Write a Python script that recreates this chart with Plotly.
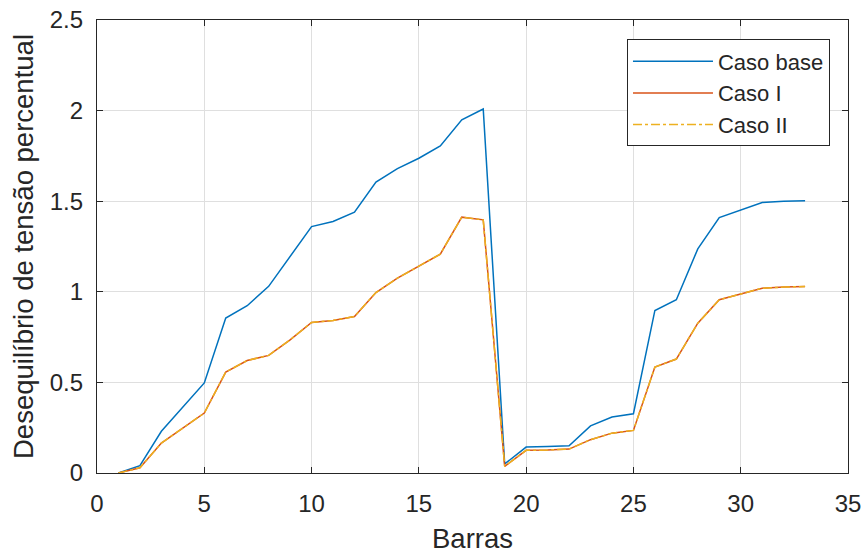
import plotly.graph_objects as go

barras = list(range(1, 34))
caso_base = [0.0, 0.04, 0.23, 0.365, 0.497, 0.855, 0.923, 1.03, 1.195, 1.36,
             1.388, 1.44, 1.605, 1.68, 1.737, 1.805, 1.949, 2.009, 0.05, 0.143,
             0.146, 0.15, 0.26, 0.309, 0.327, 0.897, 0.956, 1.237, 1.41, 1.452,
             1.493, 1.5, 1.502]
caso_I = [0.0, 0.029, 0.165, 0.248, 0.331, 0.557, 0.621, 0.649, 0.735, 0.831,
          0.842, 0.864, 0.996, 1.075, 1.14, 1.208, 1.412, 1.397, 0.037, 0.125,
          0.127, 0.132, 0.184, 0.22, 0.235, 0.585, 0.629, 0.827, 0.956, 0.989,
          1.02, 1.026, 1.029]
caso_II = [0.0, 0.029, 0.165, 0.248, 0.331, 0.557, 0.621, 0.649, 0.735, 0.831,
           0.842, 0.864, 0.996, 1.075, 1.14, 1.208, 1.412, 1.397, 0.037, 0.125,
           0.127, 0.132, 0.184, 0.22, 0.235, 0.585, 0.629, 0.827, 0.956, 0.989,
           1.02, 1.026, 1.029]
x_ticks = [0, 5, 10, 15, 20, 25, 30, 35]
y_ticks = [0, 0.5, 1, 1.5, 2, 2.5]
y_tick_labels = ["0", "0.5", "1", "1.5", "2", "2.5"]

FONT = "Liberation Sans, Arial, Helvetica, sans-serif"
TXT = "#262626"

fig = go.Figure()
fig.add_trace(go.Scatter(x=barras, y=caso_base, mode="lines", name="Caso base",
                         line=dict(color="#0072BD", width=1.5)))
fig.add_trace(go.Scatter(x=barras, y=caso_I, mode="lines", name="Caso I",
                         line=dict(color="#D95319", width=1.5)))
fig.add_trace(go.Scatter(x=barras, y=caso_II, mode="lines", name="Caso II",
                         line=dict(color="#EDB120", width=1.5, dash="dashdot")))

axis_common = dict(
    showline=True, linecolor=TXT, linewidth=1.2, mirror="ticks",
    ticks="inside", ticklen=6, tickcolor=TXT, tickwidth=1,
    showgrid=True, gridcolor="#dfdfdf", gridwidth=1,
    zeroline=False, automargin=False,
    tickfont=dict(family=FONT, size=24, color=TXT),
)

fig.update_layout(
    width=866, height=554,
    margin=dict(l=97, r=18, t=20, b=81),
    plot_bgcolor="white", paper_bgcolor="white",
    font=dict(family=FONT, color=TXT),
    xaxis=dict(range=[0, 35], tickvals=x_ticks, ticklabelstandoff=9,
               title=dict(text="Barras", font=dict(family=FONT, size=27.5, color=TXT),
                          standoff=21),
               **axis_common),
    yaxis=dict(range=[0, 2.5], tickvals=y_ticks, ticktext=y_tick_labels,
               ticklabelstandoff=8,
               title=dict(text="Desequilíbrio de tensão percentual",
                          font=dict(family=FONT, size=27.5, color=TXT), standoff=8),
               **axis_common),
    legend=dict(x=0.976, y=0.957, xanchor="right", yanchor="top",
                bgcolor="white", bordercolor=TXT, borderwidth=1,
                font=dict(family=FONT, size=22, color=TXT),
                itemwidth=80, tracegroupgap=0),
    showlegend=True,
)

fig.write_html("out.html")
